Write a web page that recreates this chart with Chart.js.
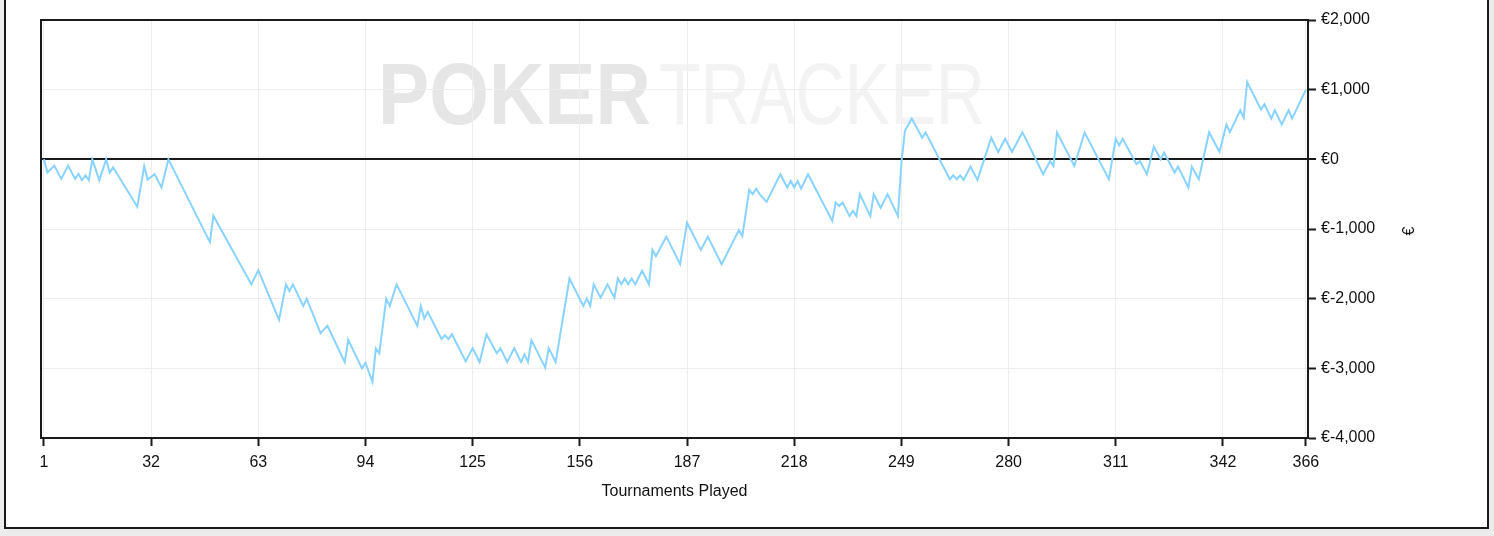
<!DOCTYPE html>
<html>
<head>
<meta charset="utf-8">
<script src="https://cdn.jsdelivr.net/npm/chart.js@4"></script>
<style>
  html, body { margin: 0; padding: 0; background: #ececec; overflow: hidden; }
  #frame { position: absolute; left: 4px; top: -4px; width: 1481px; height: 529px; background: #fff; border: 2px solid #1a1a1a; }
  #graph { position: absolute; left: 0; top: 0; }
</style>
</head>
<body>
<div id="frame"></div>
<canvas id="graph" width="1494" height="536"></canvas>
<script>
// Datos: torneo jugado (vertices de la curva) y ganancia acumulada en euros
const tournaments = [1, 2, 4, 6, 8, 10, 11, 12, 13, 14, 15, 17, 19, 20, 21, 28, 30, 31, 33, 35, 37,
  49, 50, 61, 63, 69, 71, 72, 73, 76, 77, 81, 83, 88, 89, 93, 94, 96, 97, 98, 100, 101, 103,
  109, 110, 111, 112, 116, 117, 118, 119, 123, 125, 127, 129, 132, 133, 135, 137, 139, 140, 141, 142,
  146, 147, 149, 153, 157, 158, 159, 160, 162, 164, 166, 167, 168, 169, 170, 171, 172, 174, 176, 177,
  178, 181, 185, 187, 191, 193, 197, 202, 203, 205, 206, 207, 208, 210, 214, 216, 217, 218, 219, 220,
  222, 229, 230, 231, 232, 234, 235, 236, 237, 240, 241, 243, 245, 248, 249, 250, 252, 255, 256,
  263, 264, 265, 266, 267, 269, 271, 275, 277, 279, 281, 284, 290, 292, 293, 294, 299, 302,
  309, 311, 312, 313, 317, 318, 320, 322, 324, 325, 328, 329, 332, 333, 335, 338, 341, 343, 344,
  347, 348, 349, 353, 354, 356, 357, 359, 361, 362, 366];
const profit = [0, -190, -90, -280, -90, -280, -210, -300, -230, -300, 0, -300, 0, -190, -115, -680, -100, -290, -215, -405, 0,
  -1190, -810, -1795, -1590, -2305, -1795, -1890, -1795, -2105, -2000, -2495, -2390, -2910, -2590, -3000, -2920, -3195, -2715, -2785, -2000, -2105, -1795,
  -2390, -2105, -2285, -2190, -2580, -2525, -2580, -2510, -2900, -2710, -2910, -2510, -2785, -2710, -2910, -2710, -2910, -2800, -2910, -2595,
  -2990, -2710, -2910, -1710, -2105, -2000, -2105, -1795, -1985, -1795, -1985, -1710, -1795, -1710, -1795, -1710, -1795, -1600, -1795, -1300,
  -1390, -1110, -1505, -910, -1300, -1110, -1505, -1015, -1100, -440, -500, -420, -500, -610, -215, -405, -310, -405, -310, -420,
  -215, -885, -620, -670, -620, -815, -740, -815, -500, -815, -500, -695, -500, -815, -50, 405, 585, 310, 385,
  -285, -230, -285, -230, -295, -105, -295, 310, 105, 295, 105, 390, -215, -25, -95, 385, -95, 385,
  -285, 295, 200, 295, -70, -25, -215, 180, 0, 95, -190, -105, -405, -105, -285, 390, 105, 500, 390,
  705, 600, 1110, 715, 790, 585, 705, 500, 705, 585, 1000];
const xTicks = [1, 32, 63, 94, 125, 156, 187, 218, 249, 280, 311, 342, 366];
const yTicks = [-4000, -3000, -2000, -1000, 0, 1000, 2000];

const fuente = "'Liberation Sans', Arial, sans-serif";

// Marca de agua y marco del area del grafico
const extras = {
  id: 'extras',
  beforeDraw(chart) {
    const ctx = chart.ctx;
    ctx.save();
    ctx.textBaseline = 'alphabetic';
    ctx.font = "bold 88px " + fuente;
    let w = ctx.measureText('POKER').width;
    ctx.translate(378, 124);
    ctx.scale(273 / w, 1);
    ctx.fillStyle = '#e6e6e6';
    ctx.fillText('POKER', 0, 0);
    ctx.restore();
    ctx.save();
    ctx.font = "88px " + fuente;
    w = ctx.measureText('TRACKER').width;
    ctx.translate(659, 124);
    ctx.scale(326 / w, 1);
    ctx.fillStyle = '#f3f3f3';
    ctx.fillText('TRACKER', 0, 0);
    ctx.restore();
  },
  afterDraw(chart) {
    const { ctx, chartArea: a } = chart;
    ctx.save();
    ctx.strokeStyle = '#1a1a1a';
    ctx.lineWidth = 2;
    ctx.beginPath();
    ctx.moveTo(a.left, a.bottom);
    ctx.lineTo(a.left, a.top);
    ctx.lineTo(a.right, a.top);
    ctx.stroke();
    // titulo del eje y (simbolo de euro girado)
    ctx.translate(1410, 231);
    ctx.rotate(-Math.PI / 2);
    ctx.font = "16px " + fuente;
    ctx.fillStyle = '#111';
    ctx.textAlign = 'center';
    ctx.textBaseline = 'middle';
    ctx.fillText('€', 0, 0);
    ctx.restore();
  }
};

new Chart(document.getElementById('graph'), {
  type: 'line',
  data: {
    datasets: [{
      data: tournaments.map((t, i) => ({ x: t, y: profit[i] })),
      borderColor: '#88d3ff',
      borderWidth: 2,
      pointRadius: 0,
      tension: 0,
      fill: false
    }]
  },
  options: {
    responsive: false,
    animation: false,
    devicePixelRatio: 1,
    layout: { padding: { left: 41, top: 20, right: 0, bottom: 0 } },
    plugins: { legend: { display: false }, tooltip: { enabled: false } },
    scales: {
      x: {
        type: 'linear',
        position: 'bottom',
        min: 0.15,
        max: 366.6,
        afterBuildTicks: (scale) => { scale.ticks = xTicks.map(v => ({ value: v })); },
        afterFit: (scale) => { scale.height = 98; },
        ticks: { autoSkip: false, maxRotation: 0, padding: 7, color: '#111', font: { family: fuente, size: 16 } },
        grid: { color: '#ededed', lineWidth: 1, tickColor: '#1a1a1a', tickLength: 8, tickWidth: 2 },
        border: { display: true, color: '#1a1a1a', width: 2 },
        title: { display: true, text: 'Tournaments Played', color: '#111', font: { family: fuente, size: 16 }, padding: { top: 0, bottom: 35 } }
      },
      y: {
        position: 'right',
        min: -4000,
        max: 2000,
        afterBuildTicks: (scale) => { scale.ticks = yTicks.map(v => ({ value: v })); },
        afterFit: (scale) => { scale.width = 186; },
        ticks: {
          padding: 5,
          color: '#111',
          font: { family: fuente, size: 16 },
          callback: (v) => v < 0 ? '€-' + Math.abs(v).toLocaleString('en-US') : '€' + v.toLocaleString('en-US')
        },
        grid: {
          color: (c) => c.tick && c.tick.value === 0 ? '#1a1a1a' : '#ededed',
          lineWidth: (c) => c.tick && c.tick.value === 0 ? 2 : 1,
          tickColor: '#1a1a1a', tickLength: 8, tickWidth: 2
        },
        border: { display: true, color: '#1a1a1a', width: 2 }
      }
    }
  },
  plugins: [extras]
});
</script>
</body>
</html>
